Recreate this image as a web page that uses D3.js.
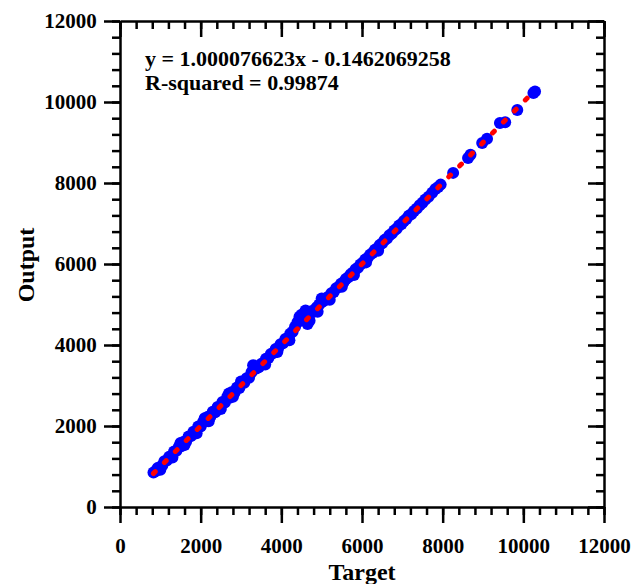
<!DOCTYPE html>
<meta charset="utf-8">
<style>
body { margin: 0; background: #fff; }
text { font-family: "Liberation Serif", "Times New Roman", serif; font-weight: bold; fill: #000; }
.axis path, .axis line { stroke: #000; stroke-width: 2.5; }
</style>
<svg width="633" height="584"></svg>
<script src="https://d3js.org/d3.v7.min.js"></script>
<script>

// values
var target = [830, 880, 930, 990, 1050, 1100, 1160, 1220, 1280, 1340, 1400, 1460, 1520, 1580, 1640, 1700, 1760, 1820, 1880, 1940,
  2000, 2060, 2120, 2180, 2240, 2300, 2360, 2420, 2480, 2540, 2600, 2660, 2720, 2780, 2840, 2900, 2960, 3020, 3080, 3140,
  3200, 3260, 3320, 3380, 3440, 3500, 3560, 3620, 3680, 3740, 3800, 3860, 3920, 3980, 4040, 4100, 4160, 4220, 4280, 4340,
  4400, 4460, 4520, 4580, 4640, 4700, 4760, 4820, 4880, 4940, 5000, 5060, 5120, 5180, 5240, 5300, 5360, 5420, 5480, 5540,
  5600, 5660, 5720, 5780, 5840, 5900, 5960, 6020, 6080, 6140, 6200, 6260, 6320, 6380, 6440, 6500, 6560, 6620, 6680, 6740,
  6800, 6860, 6920, 6980, 7040, 7100, 7160, 7220, 7290, 7360, 7430, 7500, 7570, 7650, 7740, 7820, 7890, 7950, 8260, 8630,
  8690, 8980, 9100, 9420, 9550, 9850, 10250, 10290,
  1000, 1300, 1600, 1900, 2200, 2500, 2800, 1500, 2100, 2700, 3000, 3300, 3350, 3600, 3900, 4200, 4450, 4500, 4600, 4650,
  4700, 4900, 5000, 5200, 5500, 5800, 6100, 6400];
var output = [850, 880, 960, 980, 1030, 1130, 1150, 1240, 1260, 1370, 1390, 1490, 1500, 1610, 1620, 1740, 1750, 1860, 1870, 1990,
  1990, 2100, 2110, 2230, 2230, 2350, 2340, 2470, 2460, 2590, 2580, 2720, 2700, 2840, 2820, 2950, 2940, 3060, 3070, 3180,
  3190, 3330, 3400, 3420, 3450, 3530, 3560, 3660, 3680, 3780, 3800, 3900, 3920, 4020, 4040, 4150, 4170, 4280, 4330, 4450,
  4560, 4640, 4620, 4700, 4760, 4820, 4800, 4870, 4930, 5000, 5060, 5090, 5160, 5200, 5280, 5310, 5400, 5430, 5510, 5550,
  5630, 5670, 5750, 5790, 5870, 5910, 5990, 6030, 6110, 6150, 6230, 6270, 6350, 6390, 6470, 6510, 6590, 6630, 6710, 6750,
  6830, 6870, 6950, 6990, 7060, 7110, 7190, 7230, 7310, 7370, 7450, 7510, 7590, 7660, 7760, 7850, 7900, 7960, 8250, 8620,
  8700, 8990, 9090, 9480, 9500, 9800, 10220, 10260,
  920, 1220, 1530, 1820, 2120, 2420, 2720, 1580, 2190, 2800, 3100, 3500, 3460, 3520, 3830, 4120, 4700, 4750, 4850, 4520,
  4600, 4820, 5150, 5120, 5440, 5730, 6040, 6330];

var fitSlope = 1.000076623, fitIntercept = -0.1462069258;
var fitRange = [830, 10300];
var majorTicks = d3.range(0, 12001, 2000);
var minorTicks = d3.range(0, 12001, 400);
var annotation = ["y = 1.000076623x - 0.1462069258", "R-squared = 0.99874"];

var svg = d3.select("svg");
var x = d3.scaleLinear().domain([0, 12000]).range([120, 604]);
var y = d3.scaleLinear().domain([0, 12000]).range([507, 21]);

// axes: major and minor ticks, labels on left/bottom, mirrored ticks inside on top/right
function axisPair(axisFn, pos, transform, inward, labels) {
  svg.append("g").attr("class", "axis").attr("transform", transform)
    .call(axisFn(pos).tickValues(minorTicks).tickSize(inward ? -8 : 8).tickFormat(""))
    .select(".domain").remove();
  var g = svg.append("g").attr("class", "axis").attr("transform", transform)
    .call(axisFn(pos).tickValues(majorTicks).tickSize(inward ? -16 : 16).tickSizeOuter(0)
      .tickFormat(labels ? d3.format("d") : ""));
  return g;
}
var gx = axisPair(d3.axisBottom, x, "translate(0,507)", false, true);
var gy = axisPair(d3.axisLeft, y, "translate(120,0)", false, true);
axisPair(d3.axisTop, x, "translate(0,21)", true, false);
axisPair(d3.axisRight, y, "translate(604,0)", true, false);

gx.selectAll("text").attr("dy", "1.3em").style("font-size", "21px").style("font-family", "Liberation Serif");
gy.selectAll("text").attr("dx", "-0.2em").style("font-size", "21px").style("font-family", "Liberation Serif");

// points
svg.append("g").selectAll("circle")
  .data(target.map(function(t, i) { return [t, output[i]]; }))
  .enter().append("circle")
    .attr("cx", function(d) { return x(d[0]); })
    .attr("cy", function(d) { return y(d[1]); })
    .attr("r", 6)
    .attr("fill", "#0000ff");

// fitted line
svg.append("line")
  .attr("x1", x(fitRange[0])).attr("y1", y(fitSlope * fitRange[0] + fitIntercept))
  .attr("x2", x(fitRange[1])).attr("y2", y(fitSlope * fitRange[1] + fitIntercept))
  .attr("stroke", "#ff0000").attr("stroke-width", 5)
  .attr("stroke-linecap", "round").attr("stroke-dasharray", "2.5,13");

// annotation
svg.selectAll(".ann").data(annotation).enter().append("text")
  .attr("class", "ann")
  .attr("x", 145).attr("y", function(d, i) { return 66 + i * 24; })
  .style("font-size", "22px")
  .text(function(d) { return d; });

svg.append("text").attr("x", 362).attr("y", 580).attr("text-anchor", "middle")
  .style("font-size", "24px").text("Target");
svg.append("text").attr("transform", "translate(34,265) rotate(-90)").attr("text-anchor", "middle")
  .style("font-size", "24px").text("Output");

</script>
